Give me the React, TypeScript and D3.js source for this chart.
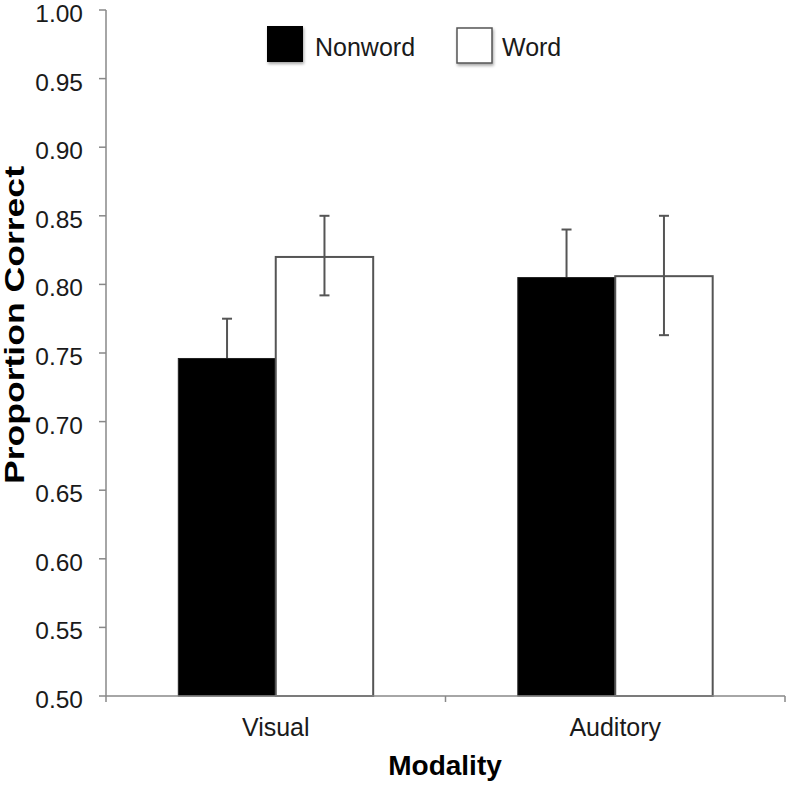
import React from "react";
import * as d3 from "d3";

const categories = ["Visual", "Auditory"];
const series = ["Nonword", "Word"];
const nonwordValues = [0.746, 0.805];
const wordValues = [0.82, 0.806];
const nonwordErrUp = [0.775, 0.84];
const nonwordErrDown = [0.717, 0.77];
const wordErrUp = [0.85, 0.85];
const wordErrDown = [0.792, 0.763];
const yTicks = [0.5, 0.55, 0.6, 0.65, 0.7, 0.75, 0.8, 0.85, 0.9, 0.95, 1.0];

const W = 788;
const H = 786;

export default function App() {
  const y = d3.scaleLinear().domain([0.5, 1.0]).range([696, 10]);
  const x0 = d3.scaleBand<string>().domain(categories).range([106, 785]);
  const barW = x0.bandwidth() * 0.287;
  const x1 = d3
    .scaleBand<string>()
    .domain(series)
    .range([x0.bandwidth() / 2 - barW, x0.bandwidth() / 2 + barW]);
  const fmt = d3.format(".2f");
  const font = "'Liberation Sans', Arial, Helvetica, sans-serif";

  const seriesData = [
    { name: "Nonword", values: nonwordValues, up: nonwordErrUp, down: nonwordErrDown, fill: "#000" },
    { name: "Word", values: wordValues, up: wordErrUp, down: wordErrDown, fill: "#fff" },
  ];

  const errBar = (cx: number, lo: number, hi: number, key: string) => (
    <g key={key} stroke="#555" strokeWidth={2}>
      <line x1={cx} x2={cx} y1={y(lo)} y2={y(hi)} />
      <line x1={cx - 5} x2={cx + 5} y1={y(hi)} y2={y(hi)} />
      <line x1={cx - 5} x2={cx + 5} y1={y(lo)} y2={y(lo)} />
    </g>
  );

  return (
    <svg
      width={W}
      height={H}
      style={{ position: "absolute", left: 0, top: 0, background: "#fff" }}
      fontFamily={font}
    >
      <defs>
        <filter id="sh" x="-30%" y="-30%" width="160%" height="160%">
          <feDropShadow dx="1" dy="2" stdDeviation="1.5" floodColor="#000" floodOpacity="0.35" />
        </filter>
      </defs>
      <rect x={0} y={0} width={W} height={H} fill="#fff" />

      {/* y axis */}
      <line x1={106} x2={106} y1={y(1.0)} y2={y(0.5)} stroke="#888" strokeWidth={1.5} />
      {yTicks.map((t) => (
        <g key={t}>
          <line x1={99} x2={106} y1={y(t)} y2={y(t)} stroke="#888" strokeWidth={1.5} />
          <text x={83} y={y(t) + 12} textAnchor="end" fontSize={24.5} fill="#1a1a1a">
            {fmt(t)}
          </text>
        </g>
      ))}

      {/* bars */}
      {categories.map((c, i) =>
        errBar(x0(c)! + x1("Nonword")! + x1.bandwidth() / 2, seriesData[0].down[i], seriesData[0].up[i], "en" + c)
      )}
      {seriesData.map((s) =>
        categories.map((c, i) => (
          <rect
            key={s.name + c}
            x={x0(c)! + x1(s.name)!}
            y={y(s.values[i])}
            width={x1.bandwidth()}
            height={y(0.5) - y(s.values[i])}
            fill={s.fill}
            stroke={s.name === "Word" ? "#555" : "#222"}
            strokeWidth={s.name === "Word" ? 2 : 1}
          />
        ))
      )}
      {categories.map((c, i) =>
        errBar(x0(c)! + x1("Word")! + x1.bandwidth() / 2, seriesData[1].down[i], seriesData[1].up[i], "ew" + c)
      )}

      {/* x axis */}
      <line x1={106} x2={785} y1={696} y2={696} stroke="#888" strokeWidth={1.5} />
      {[106, ...categories.map((c) => x0(c)! + x0.bandwidth())].map((px, i) => (
        <line key={i} x1={px} x2={px} y1={696} y2={702} stroke="#888" strokeWidth={1.5} />
      ))}
      {categories.map((c) => (
        <text key={c} x={x0(c)! + x0.bandwidth() / 2} y={736} textAnchor="middle" fontSize={25} fill="#1a1a1a">
          {c}
        </text>
      ))}

      {/* axis titles */}
      <text x={445} y={775} textAnchor="middle" fontSize={28} fontWeight="bold" fill="#000">
        Modality
      </text>
      <text
        transform={`translate(24, 325) rotate(-90)`}
        textAnchor="middle"
        fontSize={28}
        fontWeight="bold"
        fill="#000"
        textLength={318}
        lengthAdjust="spacingAndGlyphs"
      >
        Proportion Correct
      </text>

      {/* legend */}
      <rect x={267} y={26} width={36} height={36} fill="#000" filter="url(#sh)" />
      <text x={315} y={56} fontSize={25} fill="#1a1a1a">
        {series[0]}
      </text>
      <rect x={457} y={28} width={35} height={35} fill="#fff" stroke="#555" strokeWidth={1.5} filter="url(#sh)" />
      <text x={502} y={56} fontSize={25} fill="#1a1a1a">
        {series[1]}
      </text>
    </svg>
  );
}
